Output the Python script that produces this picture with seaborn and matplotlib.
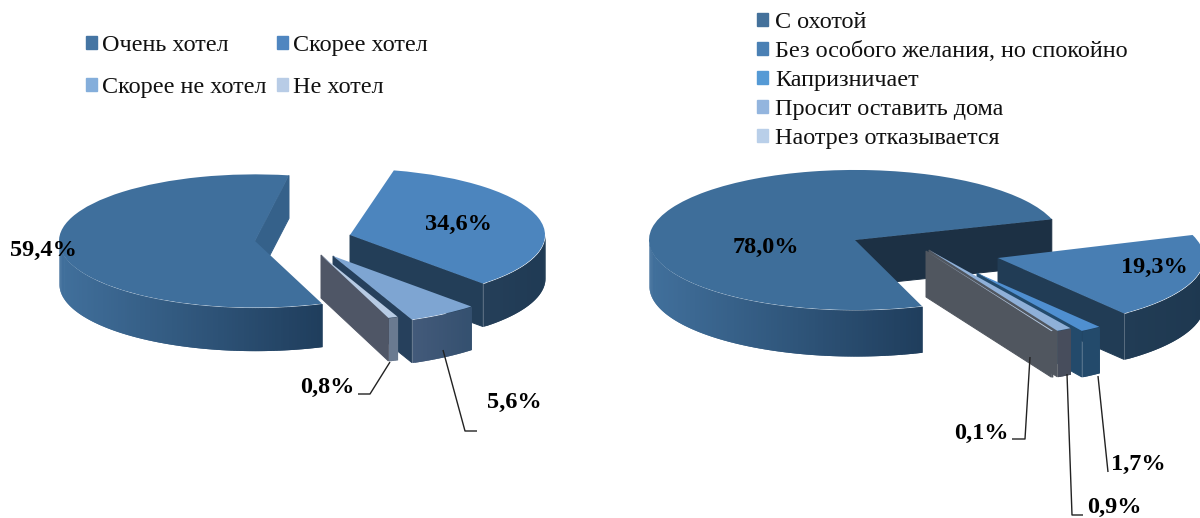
import numpy as np
import seaborn as sns
import matplotlib.pyplot as plt
from matplotlib.patches import Patch

# left chart data
left_labels = ['Очень хотел', 'Скорее хотел', 'Скорее не хотел', 'Не хотел']
left_values = [59.4, 34.6, 5.6, 0.8]
left_text = ['59,4%', '34,6%', '5,6%', '0,8%']

# right chart data
right_labels = ['С охотой', 'Без особого желания, но спокойно', 'Капризничает',
                'Просит оставить дома', 'Наотрез отказывается']
right_values = [78.0, 19.3, 1.7, 0.9, 0.1]
right_text = ['78,0%', '19,3%', '1,7%', '0,9%', '0,1%']

# colours
left_top = ['#3f6f9c', '#4c85be', '#7ea5d2', '#b7cbe4']
left_wall = ['#35618a', '#233e58', '#26405c', '#4f5666']
left_side = [('#41709c', '#1f3d5c'), ('#253f59', '#1f3a54'), ('#435a7a', '#34506f'), ('#6a7a90', '#6a7a90')]
left_legend = ['#4575a3', '#4f86c0', '#84aedb', '#b8cce6']

right_top = ['#3e6e9a', '#487eb3', '#4f8fd0', '#8fb0d8', '#b7cbe4']
right_wall = ['#1c3044', '#213c55', '#234a6b', '#50565f', '#50565f']
right_side = [('#41709c', '#1f3d5c'), ('#213c55', '#1e3850'), ('#234a6b', '#234a6b'), ('#474d5c', '#474d5c'), ('#50565f', '#50565f')]
right_legend = ['#44719b', '#4a80b4', '#559ad5', '#93b5de', '#b9cfe9']

SQUASH = 0.34


def py(y):
    # picture row to data y, the pie is flat in data units
    return (518 - y) / SQUASH


def hex_mix(a, b, t):
    ca, cb = np.array(sns.color_palette([a, b]))
    return tuple(ca * (1 - t) + cb * t)


def draw_pie(ax, values, tops, walls, sides, start, centers, radii, depth, trims, wall_low=False):
    wedges, _ = ax.pie(values, startangle=start, counterclock=False, colors=tops,
                       wedgeprops={'linewidth': 0})
    dz = depth / SQUASH
    for i, w in enumerate(wedges):
        cx, cy = centers[i][0], py(centers[i][1])
        r = radii[i]
        w.set_center((cx, cy))
        w.set_radius(r)
        # perspective of the original bends the big slice a little
        w.set_theta1(w.theta1 + trims[i][0])
        w.set_theta2(w.theta2 + trims[i][1])
        z = 4 + i * 3
        if wall_low and i == 0:
            z = 20
        w.set_zorder(z + 2)

        # outer side, only the front half shows
        t = np.radians(np.linspace(w.theta1, w.theta2, 400))
        t = t[np.sin(t) < 0]
        if len(t) > 1:
            # strips about 2 px wide, thinner ones wash out with antialiasing
            width = np.ptp(np.cos(t)) * r
            t = np.linspace(t[0], t[-1], int(width / 2) + 2)
            x = cx + r * np.cos(t)
            y = cy + r * np.sin(t)
            for k in range(len(t) - 1):
                frac = (x[k] - x.min()) / max(x.max() - x.min(), 1)
                c = hex_mix(sides[i][0], sides[i][1], frac)
                # each strip overlaps the next one so no seams show
                ax.fill_between(x[k:k + 3], y[k:k + 3], y[k:k + 3] - dz,
                                color=c, lw=0, zorder=z)

        # cut faces that look to the viewer
        for a, visible in ((w.theta1, np.cos(np.radians(w.theta1)) > 0),
                           (w.theta2, np.cos(np.radians(w.theta2)) < 0)):
            if visible:
                ex = cx + r * np.cos(np.radians(a))
                ey = cy + r * np.sin(np.radians(a))
                wz = 2 if (wall_low and i == 0) else z + 1
                ax.fill([cx, ex, ex, cx], [cy, ey, ey - dz, cy - dz],
                        color=walls[i], lw=0.7, zorder=wz)


def leader(ax, xs, ys):
    ax.plot(xs, [py(v) for v in ys], color='#222222', lw=1, zorder=30, solid_capstyle='butt')


def label(ax, x, y, s):
    ax.text(x, py(y), s, ha='center', va='center', fontsize=17.5, fontweight='bold',
            color='black', zorder=40)


sns.set_theme(style='white')
plt.rcParams['font.family'] = ['Liberation Serif', 'DejaVu Serif']

fig = plt.figure(figsize=(12, 5.18), dpi=100)
ax = fig.add_axes([0, 0, 1, 1])

draw_pie(ax, left_values, left_top, left_wall, left_side, 290,
         [(255, 241), (350, 235), (333, 256), (321, 255)],
         [196, 195, 203, 197], 43,
         [(3, 0), (0, 0), (0, 0), (0, 0)])
draw_pie(ax, right_values, right_top, right_wall, right_side, 298,
         [(855, 240), (998, 258), (977, 273), (929, 250), (926, 251)],
         [206, 206, 200, 270, 267], 46,
         [(0, -9), (0, 2), (0, 0), (0, 0), (0, 0)], wall_low=True)

ax.set_aspect('auto')
ax.set_xlim(0, 1200)
ax.set_ylim(0, 518 / SQUASH)
ax.set_axis_off()

for (x, y), s in zip([(43, 250), (458, 224), (514, 402), (327, 387)], left_text):
    label(ax, x, y, s)
for (x, y), s in zip([(766, 247), (1154, 267), (1138, 464), (1114, 507), (981, 433)], right_text):
    label(ax, x, y, s)

leader(ax, [358, 370, 390], [394, 394, 362])
leader(ax, [477, 465, 443], [431, 431, 350])
leader(ax, [1012, 1025, 1030], [439, 439, 357])
leader(ax, [1083, 1072, 1067], [515, 515, 374])
leader(ax, [1108, 1098], [472, 376])

# legends, matplotlib fills columns first so the order is swapped to read by rows
order = [0, 2, 1, 3]
left_handles = [Patch(color=left_legend[i]) for i in order]
leg1 = ax.legend(left_handles, [left_labels[i] for i in order], ncols=2, frameon=False, fontsize=17.4,
                 loc='upper left', bbox_to_anchor=(0.0715, 0.932), handlelength=0.46, handleheight=0.46,
                 handletextpad=0.21, columnspacing=0.43, labelspacing=0.88, borderpad=0, borderaxespad=0,
                 labelcolor='#111111')
ax.add_artist(leg1)
right_handles = [Patch(color=c) for c in right_legend]
ax.legend(right_handles, right_labels, frameon=False, fontsize=17.4,
          loc='upper left', bbox_to_anchor=(0.631, 0.977), handlelength=0.46, handleheight=0.46,
          handletextpad=0.28, labelspacing=0.33, borderpad=0, borderaxespad=0, labelcolor='#111111')

plt.savefig('out.png', dpi=100)
plt.close()
